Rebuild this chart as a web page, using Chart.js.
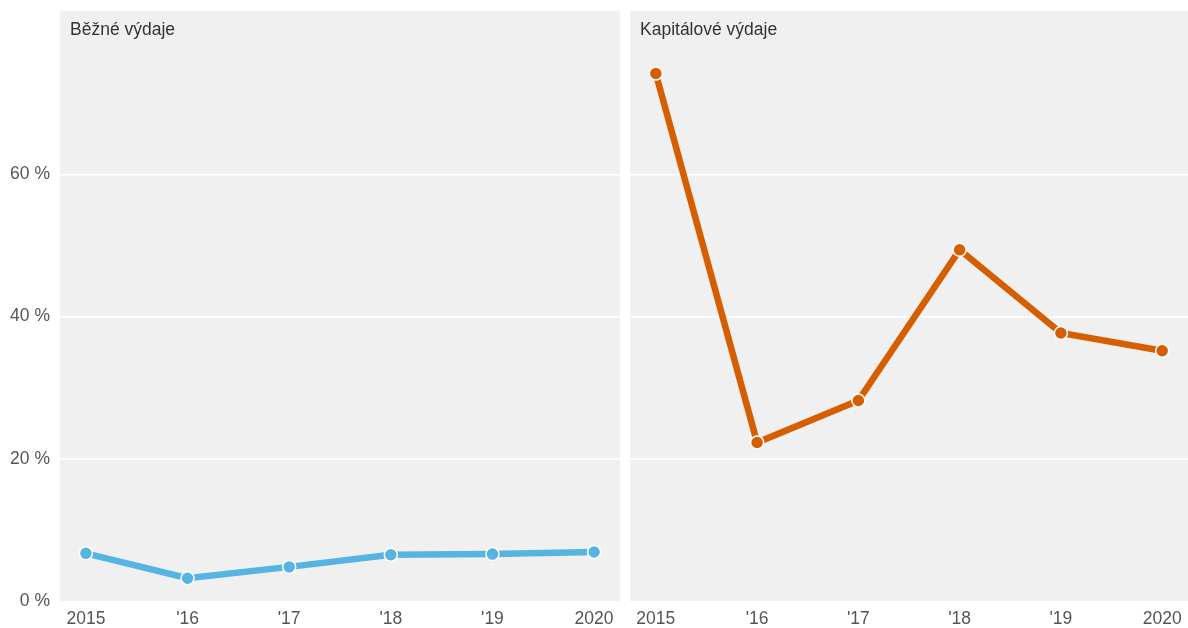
<!DOCTYPE html>
<html>
<head>
<meta charset="utf-8">
<script src="https://cdn.jsdelivr.net/npm/chart.js@4/dist/chart.umd.min.js"></script>
<style>
  html, body { margin: 0; padding: 0; background: #fff; overflow: hidden; }
  #wrap { position: relative; width: 1188px; height: 628px; overflow: hidden; }
  /* canvases are 8px wider per side: Chart.js keeps room for point overflow */
  #left { position: absolute; left: 0; top: 0; width: 628px; height: 628px; }
  #right { position: absolute; left: 622px; top: 0; width: 574px; height: 628px; }
</style>
</head>
<body>
<div id="wrap">
  <div id="left"><canvas id="chart_left"></canvas></div>
  <div id="right"><canvas id="chart_right"></canvas></div>
</div>
<script>
'use strict';

const years = [2015, 2016, 2017, 2018, 2019, 2020];
const year_labels = ['2015', "'16", "'17", "'18", "'19", '2020'];
const bezne_values = [6.7, 3.2, 4.8, 6.5, 6.6, 6.9];
const kapitalove_values = [74.2, 22.3, 28.2, 49.4, 37.7, 35.2];
const y_ticks = [0, 20, 40, 60];

const font_family = '"Liberation Sans", Arial, Helvetica, sans-serif';

// grey panel behind the plot + panel title
const panel_plugin = {
    id: 'panel',
    beforeDraw: function(chart){
        const a = chart.chartArea;
        const ctx = chart.ctx;
        ctx.save();
        ctx.fillStyle = '#f0f0f0';
        ctx.fillRect(a.left, a.top, a.right - a.left, a.bottom - a.top);
        ctx.restore();
    },
    afterDraw: function(chart, args, opts){
        const a = chart.chartArea;
        const ctx = chart.ctx;
        ctx.save();
        ctx.fillStyle = '#333';
        ctx.font = '17.5px ' + font_family;
        ctx.textBaseline = 'middle';
        ctx.textAlign = 'left';
        ctx.fillText(opts.text, a.left + 10, a.top + 19);
        ctx.restore();
    }
};

function make_chart(canvas_id, title, values, color, show_y){
    const ctx = document.getElementById(canvas_id).getContext('2d');
    return new Chart(ctx, {
        type: 'line',
        data: {
            datasets: [{
                label: title,
                data: years.map((y, i) => ({ x: y, y: values[i] })),
                borderColor: color,
                backgroundColor: color,
                borderWidth: 6.5,
                pointRadius: 6.5,
                pointBorderWidth: 1.5,
                pointBorderColor: '#fff',
                pointBackgroundColor: color,
                tension: 0,
                clip: false,
            }],
        },
        options: {
            responsive: true,
            maintainAspectRatio: false,
            animation: false,
            layout: { padding: { top: 11, right: 0, left: 0, bottom: 0 } },
            plugins: {
                legend: { display: false },
                tooltip: { enabled: false },
                panel: { text: title },
            },
            scales: {
                x: {
                    type: 'linear',
                    min: 2014.745,
                    max: 2020.255,
                    afterBuildTicks: function(scale){
                        scale.ticks = years.map(v => ({ value: v }));
                    },
                    afterFit: function(scale){
                        scale.height = 27;
                        scale.paddingLeft = 0;
                        scale.paddingRight = 0;
                    },
                    grid: { display: false, drawTicks: false },
                    border: { display: false },
                    ticks: {
                        autoSkip: false,
                        maxRotation: 0,
                        padding: 8,
                        color: '#555',
                        font: { family: font_family, size: 17.5 },
                        callback: function(v){
                            const i = years.indexOf(v);
                            return i >= 0 ? year_labels[i] : '';
                        },
                    },
                },
                y: {
                    min: 0,
                    max: 83,
                    afterBuildTicks: function(scale){
                        scale.ticks = y_ticks.map(v => ({ value: v }));
                    },
                    afterFit: function(scale){
                        scale.width = show_y ? 60 : 0;
                        scale.paddingTop = 0;
                        scale.paddingBottom = 0;
                    },
                    grid: {
                        color: function(c){ return c.tick && c.tick.value === 0 ? 'rgba(0,0,0,0)' : '#ffffff'; },
                        lineWidth: 1.5,
                        drawTicks: false,
                    },
                    border: { display: false },
                    ticks: {
                        display: show_y,
                        padding: 10,
                        color: '#555',
                        font: { family: font_family, size: 17.5 },
                        callback: function(v){ return v + ' %'; },
                    },
                },
            },
        },
        plugins: [panel_plugin],
    });
}

make_chart('chart_left', 'Běžné výdaje', bezne_values, '#56b4e3', true);
make_chart('chart_right', 'Kapitálové výdaje', kapitalove_values, '#d55e00', false);
</script>
</body>
</html>
